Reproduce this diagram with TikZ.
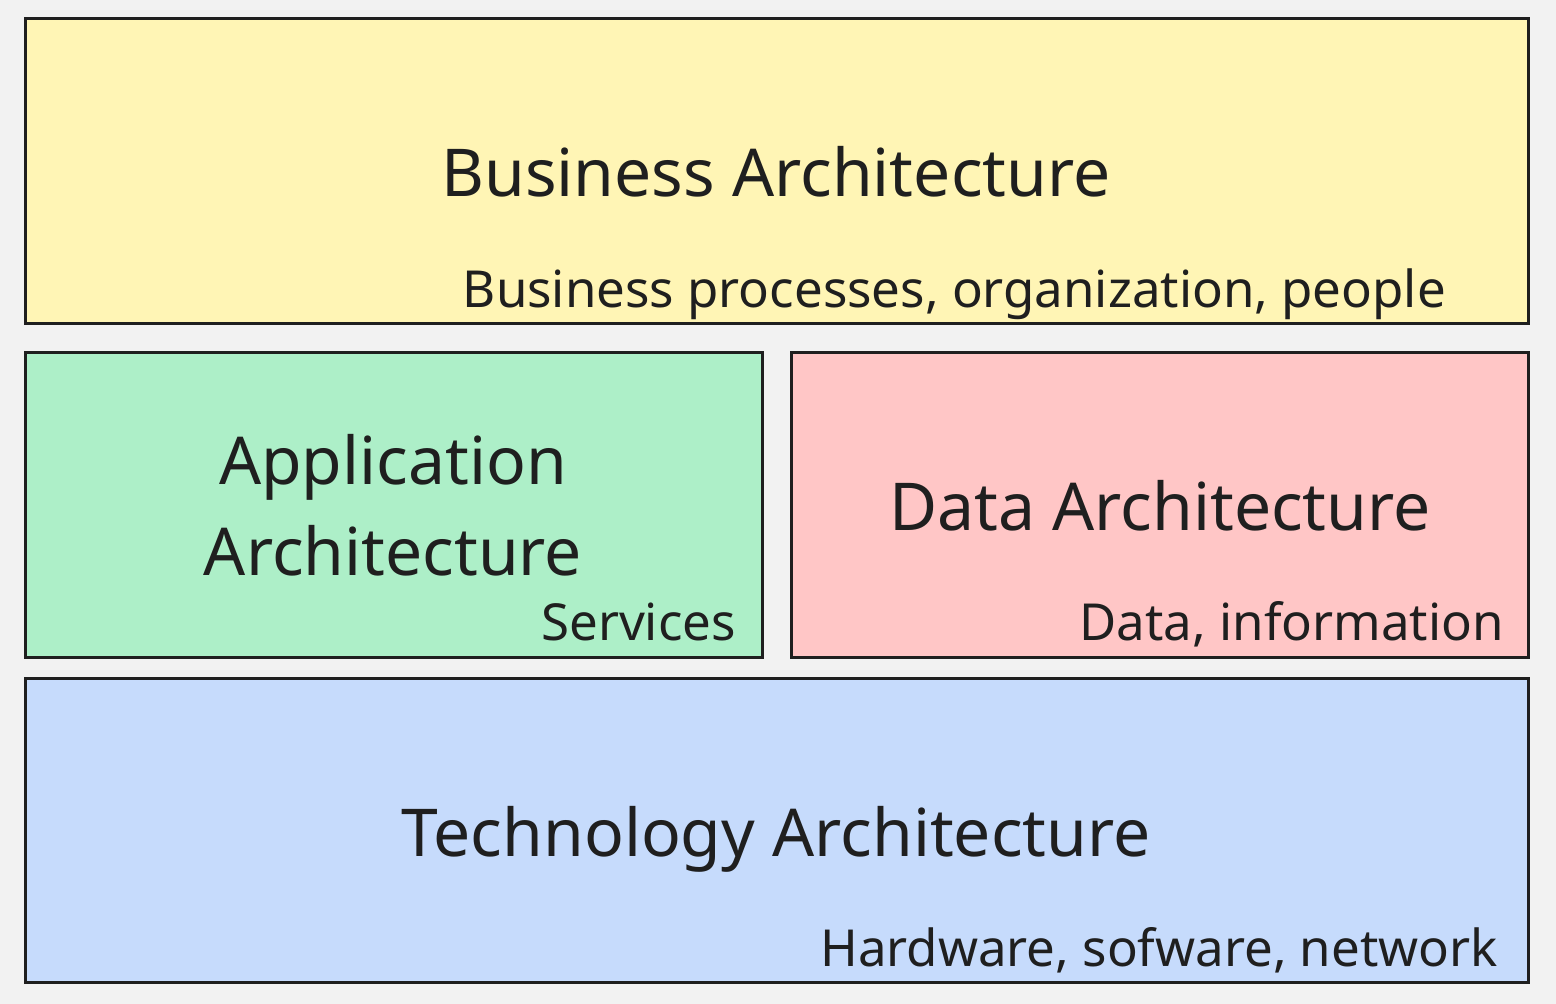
\documentclass[tikz,border=0pt]{standalone}
\usepackage{fontspec}
\setmainfont{Noto Sans}
\definecolor{bg}{HTML}{F2F2F2}
\definecolor{ink}{HTML}{1F1F1F}
\definecolor{yel}{HTML}{FFF5B5}
\definecolor{grn}{HTML}{ADEFC8}
\definecolor{pnk}{HTML}{FFC6C6}
\definecolor{blu}{HTML}{C6DBFC}
\tikzset{
  layer/.style={draw=ink, line width=3pt},
  big/.style={text=ink, font=\fontsize{66}{88}\selectfont, anchor=base, inner sep=0pt},
  small/.style={text=ink, font=\fontsize{51}{58}\selectfont, anchor=base east, inner sep=0pt}
}
\begin{document}
\begin{tikzpicture}[x=1pt,y=-1pt]
\fill[bg] (0,0) rectangle (1556,1004);
\useasboundingbox (0,0) rectangle (1556,1004);
\draw[layer, fill=yel] (25,18) rectangle (1528,323);
\draw[layer, fill=grn] (25,352) rectangle (762,657);
\draw[layer, fill=pnk] (791,352) rectangle (1528,657);
\draw[layer, fill=blu] (25,678) rectangle (1528,982);
\node[big] (bt) at (776,196) {Business Architecture};
\node[small] (bs) at (1446,307) {Business processes, organization, people};
\node[big] (at1) at (393,484) {Application};
\node[big] (at2) at (393,575) {Architecture};
\node[small] (as) at (736,640) {Services};
\node[big] (dt) at (1160,530) {Data Architecture};
\node[small] (ds) at (1504,640) {Data, information};
\node[big] (tt) at (776,856) {Technology Architecture};
\node[small] (ts) at (1498,966) {Hardware, sofware, network};
\end{tikzpicture}
\end{document}
